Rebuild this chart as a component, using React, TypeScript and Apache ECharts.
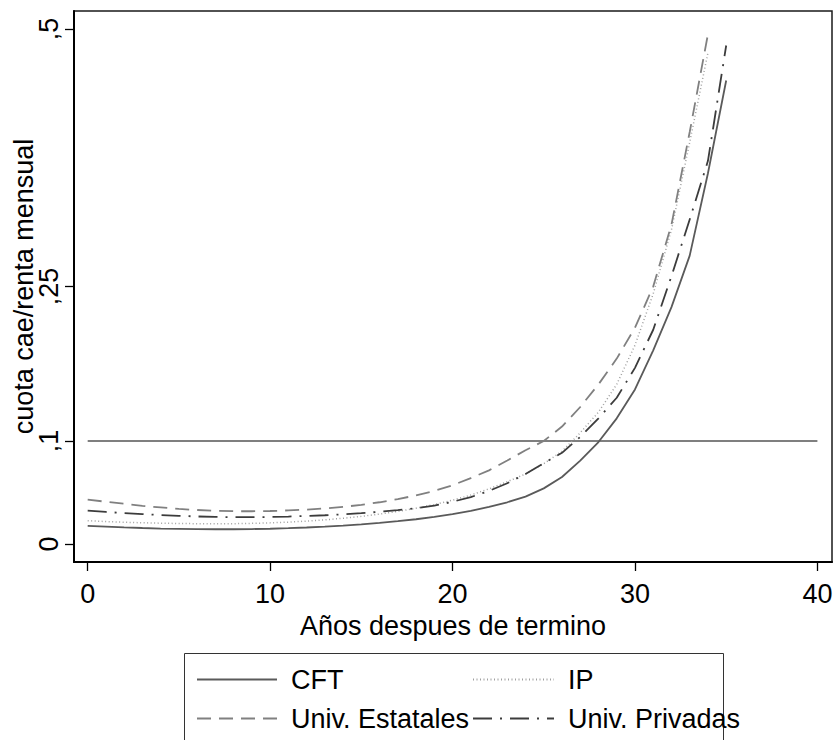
import React, { useEffect, useRef } from "react";
import * as echarts from "echarts";

const years = [0, 1, 2, 3, 4, 5, 6, 7, 8, 9, 10, 11, 12, 13, 14, 15, 16, 17, 18, 19, 20, 21, 22, 23, 24, 25, 26, 27, 28, 29, 30, 31, 32, 33, 34, 35];

const cft = [0.0175, 0.0168, 0.0161, 0.0155, 0.015, 0.0147, 0.0144, 0.0143, 0.0143, 0.0145, 0.0148, 0.0153, 0.016, 0.0168, 0.0178, 0.019, 0.0204, 0.0221, 0.024, 0.0264, 0.029, 0.0322, 0.036, 0.0405, 0.046, 0.054, 0.065, 0.081, 0.099, 0.122, 0.15, 0.188, 0.23, 0.28, 0.36, 0.45];

const ip = [0.0226, 0.0218, 0.0211, 0.0206, 0.0202, 0.0199, 0.0197, 0.0196, 0.0197, 0.02, 0.0205, 0.0212, 0.0222, 0.0234, 0.025, 0.0268, 0.029, 0.0316, 0.0347, 0.0383, 0.0425, 0.0475, 0.0535, 0.0605, 0.068, 0.078, 0.09, 0.108, 0.128, 0.155, 0.193, 0.243, 0.305, 0.39, 0.477];

const univEstatales = [0.043, 0.041, 0.039, 0.037, 0.0355, 0.034, 0.033, 0.0322, 0.0318, 0.0318, 0.032, 0.0326, 0.0334, 0.0345, 0.036, 0.038, 0.0405, 0.0435, 0.0472, 0.0515, 0.057, 0.064, 0.0715, 0.081, 0.091, 0.1, 0.114, 0.133, 0.155, 0.18, 0.21, 0.25, 0.31, 0.4, 0.495];

const univPrivadas = [0.0323, 0.0311, 0.03, 0.029, 0.0281, 0.0273, 0.0267, 0.0263, 0.026, 0.026, 0.0262, 0.0266, 0.0272, 0.0279, 0.0288, 0.0299, 0.0313, 0.0328, 0.0347, 0.0372, 0.041, 0.0455, 0.0515, 0.059, 0.068, 0.0785, 0.0885, 0.104, 0.122, 0.142, 0.171, 0.208, 0.26, 0.315, 0.372, 0.484];

const refLineX = [0, 40];
const refLineY = [0.1, 0.1];

const xTicks = [0, 10, 20, 30, 40];
const xTickLabels = ["0", "10", "20", "30", "40"];
const yTicks = [0, 0.1, 0.25, 0.5];
const yTickLabels = ["0", ",1", ",25", ",5"];

const FONT = "'Liberation Sans', Arial, Helvetica, sans-serif";

const pair = (xs: number[], ys: number[]) => ys.map((v, i) => [xs[i], v]);

export default function App() {
  const ref = useRef<HTMLDivElement>(null);
  useEffect(() => {
    if (!ref.current) return;
    const chart = echarts.init(ref.current, undefined, { renderer: "svg" });
    const legendText = { fontSize: 27, color: "#000", fontFamily: FONT, padding: [0, 0, 0, 9] };
    chart.setOption({
      animation: false,
      backgroundColor: "#ffffff",
      textStyle: { fontFamily: FONT },
      grid: {
        left: 74,
        right: 6,
        top: 11,
        bottom: 178,
        show: true,
        borderColor: "#1a1a1a",
        borderWidth: 1.5,
        containLabel: false,
        outerBoundsMode: "none",
      },
      xAxis: {
        type: "value",
        min: -0.75,
        max: 40.8,
        name: "Años despues de termino",
        nameLocation: "middle",
        nameGap: 50,
        nameMoveOverlap: false,
        nameTextStyle: { fontSize: 27, color: "#000", fontFamily: FONT },
        axisLine: { show: true, onZero: false, lineStyle: { color: "#000", width: 2 } },
        axisTick: { show: true, length: 9, customValues: xTicks, lineStyle: { color: "#000", width: 1.3 } },
        axisLabel: {
          customValues: xTicks,
          formatter: (v: number) => xTickLabels[xTicks.indexOf(v)] ?? "",
          fontSize: 27,
          color: "#000",
          fontFamily: FONT,
          margin: 18,
        },
        splitLine: { show: false },
      },
      yAxis: {
        type: "value",
        min: -0.0175,
        max: 0.5175,
        name: "cuota cae/renta mensual",
        nameLocation: "middle",
        nameGap: 37,
        nameMoveOverlap: false,
        nameTextStyle: { fontSize: 27, color: "#000", fontFamily: FONT },
        axisLine: { show: true, onZero: false, lineStyle: { color: "#000", width: 2 } },
        axisTick: { show: true, length: 9, customValues: yTicks, lineStyle: { color: "#000", width: 1.3 } },
        axisLabel: {
          customValues: yTicks,
          formatter: (v: number) => {
            const i = yTicks.findIndex((t) => Math.abs(t - v) < 1e-9);
            return i >= 0 ? yTickLabels[i] : "";
          },
          rotate: 90,
          fontSize: 27,
          color: "#000",
          fontFamily: FONT,
          margin: 12,
        },
        splitLine: { show: false },
      },
      legend: [
        {
          data: ["CFT", "Univ. Estatales"],
          orient: "vertical",
          left: 196,
          top: 666,
          padding: 0,
          itemWidth: 80,
          itemHeight: 14,
          itemGap: 12,
          selectedMode: false,
          itemStyle: { opacity: 0 },
          textStyle: legendText,
        },
        {
          data: ["IP", "Univ. Privadas"],
          orient: "vertical",
          left: 472,
          top: 666,
          padding: 0,
          itemWidth: 81,
          itemHeight: 14,
          itemGap: 12,
          selectedMode: false,
          itemStyle: { opacity: 0 },
          textStyle: legendText,
        },
      ],
      graphic: [
        {
          type: "rect",
          silent: true,
          shape: { x: 184.5, y: 653.5, width: 539, height: 120 },
          style: { fill: "none", stroke: "#333", lineWidth: 1 },
        },
      ],
      series: [
        {
          name: "ref",
          type: "line",
          data: pair(refLineX, refLineY),
          symbol: "none",
          lineStyle: { color: "#555", width: 1.4 },
          z: 1,
        },
        {
          name: "CFT",
          type: "line",
          data: pair(years, cft),
          symbol: "none",
          color: "#5a5a5a",
          lineStyle: { color: "#5a5a5a", width: 1.8, type: "solid" },
        },
        {
          name: "IP",
          type: "line",
          data: pair(years, ip),
          symbol: "none",
          color: "#a0a0a0",
          lineStyle: { color: "#a0a0a0", width: 1.5, type: [1, 2.5] },
        },
        {
          name: "Univ. Estatales",
          type: "line",
          data: pair(years, univEstatales),
          symbol: "none",
          color: "#808080",
          lineStyle: { color: "#808080", width: 1.8, type: [14, 8] },
        },
        {
          name: "Univ. Privadas",
          type: "line",
          data: pair(years, univPrivadas),
          symbol: "none",
          color: "#3c3c3c",
          lineStyle: { color: "#3c3c3c", width: 1.8, type: [19, 8, 2, 8] },
        },
      ],
    });
    return () => chart.dispose();
  }, []);
  return (
    <div
      ref={ref}
      style={{ position: "fixed", left: 0, top: 0, width: 838, height: 740, background: "#fff" }}
    />
  );
}
